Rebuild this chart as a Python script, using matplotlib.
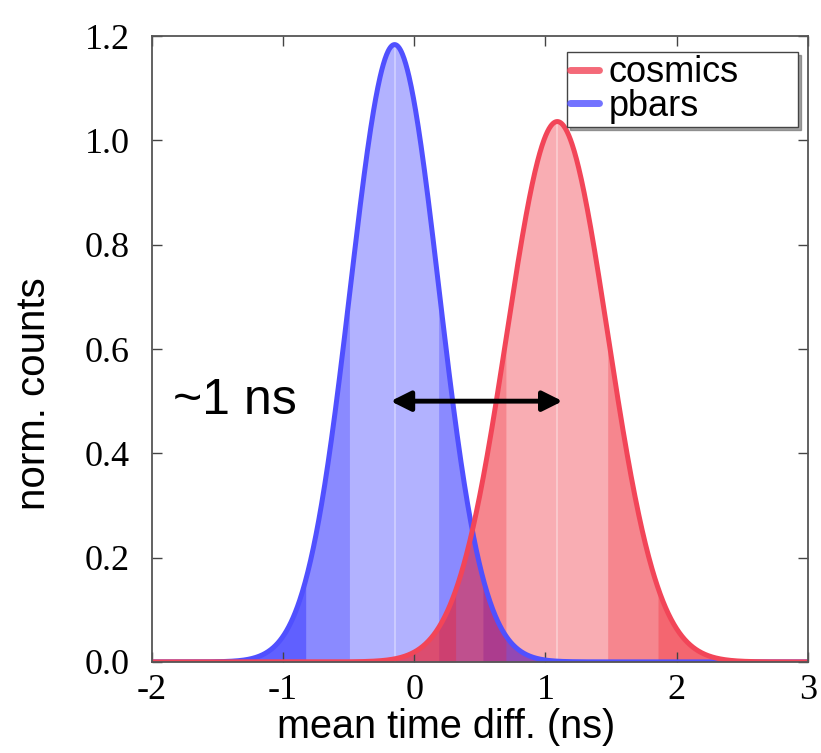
import numpy as np
import matplotlib
matplotlib.use("Agg")
import matplotlib.pyplot as plt

# gaussian fits: label, mean (ns), sigma (ns)
labels = ["cosmics", "pbars"]
means = [1.09, -0.15]
sigmas = [0.385, 0.337]
line_colors = ["#f24558", "#5050ff"]
fill_colors = ["#f01e2d", "#0000ff"]
fill_alpha = [(0.36, 0.27, 0.3), (0.3, 0.22, 0.3)]

x = np.linspace(-2, 3, 1200)

fig = plt.figure(figsize=(8.21, 7.53), dpi=100)
ax = fig.add_axes([0.185, 0.121, 0.799, 0.831])

curves = []
for lab, mu, sig, lc, fc, fa in zip(labels, means, sigmas, line_colors,
                                    fill_colors, fill_alpha):
    y = np.exp(-0.5 * ((x - mu) / sig) ** 2) / (sig * np.sqrt(2 * np.pi))
    curves.append((lab, mu, sig, lc, fc, fa, y))

# fills: blue first, red on top; darker outside 1 and 2 sigma
for lab, mu, sig, lc, fc, fa, y in curves[::-1]:
    ax.fill_between(x, 0, y, color=fc, alpha=fa[0], lw=0)
    out1 = np.abs(x - mu) >= sig
    ax.fill_between(x, 0, y, where=out1, color=fc, alpha=fa[1], lw=0)
    out2 = np.abs(x - mu) >= 2 * sig
    ax.fill_between(x, 0, y, where=out2, color=fc, alpha=fa[2], lw=0)
    peak = 1 / (sig * np.sqrt(2 * np.pi))
    ax.plot([mu, mu], [0, peak], color="white", lw=1.2, alpha=0.4)

for lab, mu, sig, lc, fc, fa, y in curves[::-1]:
    ax.plot(x, y, color=lc, lw=3.6, label=lab, solid_capstyle="round")

ax.annotate("", xy=(1.13, 0.5), xytext=(-0.18, 0.5),
            arrowprops=dict(arrowstyle="<|-|>", color="black", lw=3.5,
                            mutation_scale=30, shrinkA=0, shrinkB=0))
ax.text(-1.84, 0.5, "~1 ns", fontsize=36, family="Liberation Sans",
        va="center", ha="left")

ax.set_xlim(-2, 3)
ax.set_ylim(0, 1.2)
ax.set_xticks([-2, -1, 0, 1, 2, 3])
ax.set_xticklabels(["-2", "-1", "0", "1", "2", "3"])
ax.set_yticks(np.arange(0, 1.21, 0.2))
ax.set_yticklabels([f"{v:.1f}" for v in np.arange(0, 1.21, 0.2)])
ax.tick_params(direction="in", top=True, right=True, length=7, width=1,
               color="#444444", labelsize=26)
ax.tick_params(axis="y", pad=16)
ax.tick_params(axis="x", pad=9)
for lbl in ax.get_xticklabels() + ax.get_yticklabels():
    lbl.set_family("Liberation Serif")
for sp in ax.spines.values():
    sp.set_color("#555555")
    sp.set_linewidth(1.3)

ax.set_xlabel("mean time diff. (ns)", fontsize=28.5, family="Liberation Sans")
ax.set_ylabel("norm. counts", fontsize=29, family="Liberation Sans")
ax.xaxis.set_label_coords(0.448, -0.074)
ax.yaxis.set_label_coords(-0.15, 0.428)

# legend order: cosmics then pbars, box wider than its text
handles, labs = ax.get_legend_handles_labels()
order = [labs.index(l) for l in labels]
leg = ax.legend([handles[i] for i in order], [labs[i] for i in order],
                loc="upper left", mode="expand", handlelength=0.8,
                handletextpad=0.25, borderpad=0.1, labelspacing=-0.05,
                borderaxespad=0, fancybox=False, shadow=True, framealpha=1,
                bbox_to_anchor=(0.6326, 0.0, 0.352, 0.975),
                prop={"family": "Liberation Sans", "size": 26})
leg.get_frame().set_edgecolor("#444444")
for h in leg.get_lines():
    h.set_linewidth(5)
    h.set_alpha(0.8)

fig.savefig("out.png", dpi=100)
